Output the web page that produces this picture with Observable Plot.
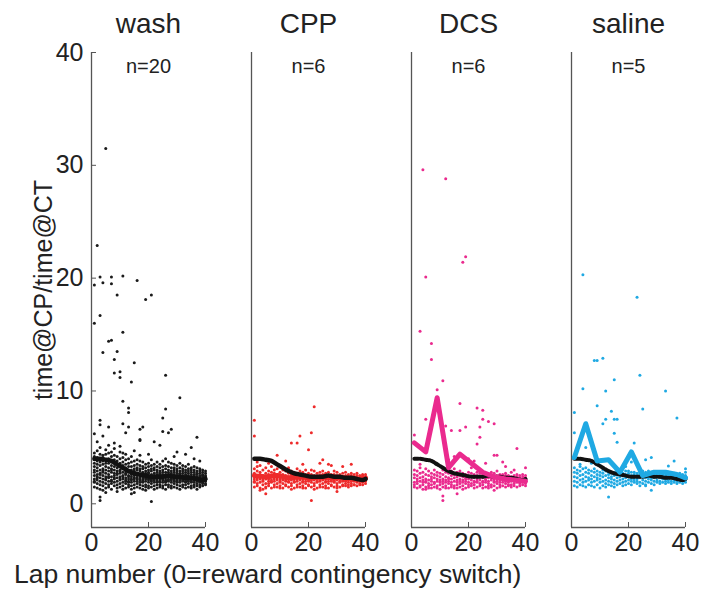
<!DOCTYPE html>
<html><head><meta charset="utf-8">
<script src="https://cdn.jsdelivr.net/npm/d3@7"></script>
<script src="https://cdn.jsdelivr.net/npm/@observablehq/plot@0.6"></script>
<style>
body{margin:0;background:#fff;font-family:Arial,"Liberation Sans",sans-serif}
#wrap{position:relative;width:705px;height:590px}
#xlabel{position:absolute;left:14px;top:561px;font-size:26.5px;color:#222;white-space:nowrap;line-height:1}
</style></head><body>
<div id="wrap"><div id="chart"></div><div id="xlabel">Lap number (0=reward contingency switch)</div></div>
<script>
const groups = ["wash", "CPP", "DCS", "saline"];
const groupColors = ["#1a1a1a", "#ee2b2b", "#ea2a8e", "#1fa9e3"];
const nLabels = ["n=20", "n=6", "n=6", "n=5"];
const yTicks = [0, 10, 20, 30, 40];
const xTicks = [0, 20, 40];

// per-lap values (laps 1..40), dense band
const washBand = [
[1.5,1.9,2.2,2.5,2.8,3.0,3.3,3.6,3.9,4.2,4.5,2.0],[1.4,1.8,2.1,2.4,2.6,2.9,3.2,3.5,3.8,4.1,4.7,2.3],
[1.3,1.7,2.0,2.3,2.7,3.0,3.4,3.7,4.0,4.4,5.0,2.6],[1.6,1.9,2.2,2.5,2.8,3.1,3.5,3.8,4.1,4.3,1.2,2.9],
[1.4,1.8,2.1,2.4,2.7,3.0,3.3,3.9,4.4,4.8,2.2,3.6],[1.5,1.7,2.0,2.3,2.6,2.9,3.2,3.6,4.0,4.5,5.2,2.4],
[1.3,1.8,2.1,2.4,2.8,3.1,3.4,3.7,4.2,4.6,2.0,3.0],[1.6,1.9,2.2,2.5,2.7,3.0,3.3,3.6,3.9,4.3,4.9,2.3],
[1.4,1.7,2.0,2.3,2.6,2.9,3.2,3.5,3.8,4.2,1.1,2.7],[1.5,1.8,2.1,2.4,2.7,3.0,3.3,3.6,4.0,4.6,2.2,2.9],
[1.3,1.6,1.9,2.2,2.5,2.8,3.1,3.4,3.7,4.1,4.5,2.4],[1.4,1.8,2.0,2.3,2.6,2.9,3.2,3.5,3.9,4.4,2.1,2.7],
[1.5,1.7,2.0,2.2,2.5,2.8,3.0,3.3,3.6,4.0,2.4,1.9],[1.3,1.6,1.9,2.2,2.4,2.7,3.0,3.3,3.7,4.2,2.1,2.6],
[1.4,1.7,2.0,2.3,2.5,2.8,3.1,3.4,3.8,1.0,2.2,2.9],[1.5,1.8,2.0,2.2,2.5,2.7,3.0,3.2,3.5,3.9,2.3,2.6],
[1.4,1.7,1.9,2.1,2.4,2.6,2.9,3.1,3.4,3.8,2.2,4.3],[1.3,1.6,1.9,2.1,2.3,2.6,2.8,3.1,3.3,3.7,2.0,2.5],
[1.5,1.7,2.0,2.2,2.4,2.7,2.9,3.2,3.5,1.2,2.3,2.6],[1.4,1.6,1.9,2.1,2.3,2.5,2.8,3.0,3.3,3.6,2.2,2.7],
[1.5,1.8,2.0,2.2,2.4,2.6,2.9,3.1,3.4,3.9,2.1,2.5],[1.3,1.6,1.9,2.1,2.3,2.5,2.7,3.0,3.2,3.5,2.2,2.4],
[1.4,1.7,1.9,2.1,2.4,2.6,2.8,3.0,3.3,3.7,2.0,2.5],[1.5,1.7,2.0,2.2,2.3,2.5,2.7,2.9,3.2,3.5,1.9,2.6],
[1.4,1.6,1.9,2.1,2.3,2.5,2.8,3.0,3.3,3.8,2.2,2.6],[1.3,1.7,1.9,2.1,2.3,2.6,2.8,3.1,3.4,4.0,2.0,2.5],
[1.5,1.7,2.0,2.2,2.4,2.6,2.8,3.0,3.3,3.7,2.1,2.5],[1.4,1.6,1.9,2.1,2.3,2.5,2.7,2.9,3.2,3.6,2.2,2.4],
[1.5,1.8,2.0,2.2,2.4,2.6,2.8,3.0,3.2,3.5,2.1,2.5],[1.4,1.7,1.9,2.1,2.3,2.5,2.7,2.9,3.1,3.4,2.0,2.4],
[1.3,1.6,1.9,2.1,2.3,2.5,2.7,2.9,3.2,3.6,2.2,2.6],[1.5,1.7,2.0,2.2,2.3,2.5,2.7,2.9,3.1,3.4,2.1,2.4],
[1.4,1.7,1.9,2.1,2.3,2.4,2.6,2.8,3.0,3.3,2.0,2.5],[1.5,1.8,2.0,2.1,2.3,2.5,2.7,2.9,3.1,3.5,2.2,2.4],
[1.4,1.6,1.9,2.1,2.2,2.4,2.6,2.8,3.0,3.2,2.0,2.3],[1.5,1.7,1.9,2.1,2.3,2.4,2.6,2.8,3.0,3.3,2.2,2.5],
[1.3,1.6,1.8,2.0,2.2,2.4,2.6,2.7,2.9,3.2,2.1,2.3],[1.5,1.7,1.9,2.1,2.2,2.4,2.5,2.7,2.9,3.1,2.0,2.3],
[1.6,1.8,1.9,2.1,2.2,2.3,2.5,2.6,2.8,3.0,2.0,2.4],[1.7,1.8,2.0,2.1,2.2,2.3,2.4,2.5,2.7,2.9,2.1,2.3]];
const washOutliers = [[5,31.5],[2,22.9],[3,20.1],[1,19.4],[4,19.6],[7,20.1],[7,19.5],[11,20.2],[16,19.8],[9,18.5],
[19,18.1],[21,18.5],[3,16.7],[1,16.0],[11,15.2],[6,14.4],[7,14.5],[4,13.4],[9,13.5],[8,12.8],[15,12.5],[8,11.6],
[10,11.7],[10,11.2],[14,10.8],[26,11.4],[11,9.1],[31,9.4],[13,8.5],[13,8.1],[26,8.4],[3,7.4],[3,7.0],[6,6.8],
[11,7.1],[13,6.8],[17,6.6],[18,6.8],[25,7.6],[25,6.4],[27,6.3],[28,6.6],[12,6.3],[1,6.2],[4,6.0],[2,5.5],[17,5.7],
[17,5.6],[22,5.5],[37,5.9],[35,5.0],[3,0.6],[3,0.3],[21,0.2],[5,1.0],[14,0.9],[24,5.2],[30,4.6],[33,4.4],[29,4.2],
[20,4.4],[15,4.7],[10,5.1],[8,5.4],[38,3.8],[36,4.0]];

const cppBand = [
[1.5,1.9,2.2,2.4,2.7,3.1,2.0],[1.6,1.8,2.1,2.5,2.9,3.3,2.3],[1.4,1.9,2.2,2.6,2.8,3.4,1.2],[1.7,2.0,2.3,2.5,3.0,1.3,2.1],
[1.5,1.8,2.2,2.4,2.7,3.2,1.4],[1.6,2.0,2.3,2.6,2.9,1.8,2.2],[1.4,1.9,2.1,2.4,2.8,3.3,2.0],[1.7,2.0,2.2,2.5,2.7,3.0,1.5],
[1.5,1.8,2.1,2.3,2.6,3.1,2.4],[1.6,1.9,2.2,2.5,2.8,1.4,2.0],[1.4,1.8,2.1,2.4,2.6,3.0,2.2],[1.7,2.0,2.3,2.5,2.9,1.6,2.1],
[1.5,1.9,2.2,2.4,2.7,3.2,2.0],[1.6,1.8,2.1,2.3,2.6,2.9,1.3],[1.4,1.9,2.2,2.5,2.8,2.0,2.3],[1.7,2.0,2.2,2.4,2.7,3.1,1.5],
[1.5,1.8,2.1,2.3,2.6,2.9,2.2],[1.6,1.9,2.2,2.5,2.8,1.4,2.0],[1.4,1.8,2.0,2.3,2.6,3.0,2.2],[1.7,2.0,2.3,2.5,2.7,1.6,2.1],
[1.5,1.9,2.1,2.4,2.6,3.0,2.2],[1.6,1.8,2.1,2.3,2.5,2.9,1.3],[1.4,1.9,2.2,2.4,2.7,2.0,2.3],[1.7,2.0,2.2,2.5,2.8,1.5,2.1],
[1.5,1.8,2.1,2.3,2.6,2.9,2.2],[1.6,1.9,2.2,2.4,2.7,1.4,2.0],[1.4,1.8,2.0,2.3,2.5,2.8,2.2],[1.7,2.0,2.2,2.4,2.6,1.6,2.1],
[1.5,1.9,2.1,2.3,2.6,2.9,2.0],[1.6,1.8,2.1,2.3,2.5,2.8,1.4],[1.5,1.9,2.2,2.4,2.6,2.0,2.3],[1.7,2.0,2.2,2.4,2.7,1.6,2.1],
[1.6,1.8,2.1,2.3,2.5,2.8,2.0],[1.7,1.9,2.2,2.4,2.6,1.5,2.1],[1.6,1.8,2.0,2.3,2.5,2.7,2.2],[1.7,2.0,2.2,2.4,2.6,1.7,2.1],
[1.6,1.9,2.1,2.3,2.5,2.7,2.0],[1.8,2.0,2.2,2.3,2.5,1.7,2.1],[1.7,1.9,2.1,2.3,2.5,2.6,2.0],[1.8,2.0,2.1,2.3,2.4,2.6,2.2]];
const cppOutliers = [[1,7.4],[1,6.0],[22,8.6],[21,6.3],[17,6.0],[14,5.4],[16,5.4],[20,4.8],[9,4.3],[3,4.0],[24,3.6],
[27,3.5],[28,3.4],[35,3.5],[10,3.4],[21,0.3],[5,0.9],[30,1.1],[2,3.7],[6,3.6],[12,3.8],[25,3.9],[32,3.3],[18,3.5]];

const dcsBand = [
[1.5,1.9,2.3,2.6,3.0,1.7],[1.4,1.8,2.2,2.5,2.9,2.0],[1.6,2.0,2.3,2.7,3.2,1.5],[1.3,1.7,2.1,2.4,2.8,1.9],
[1.5,1.9,2.2,2.6,3.1,2.0],[1.6,1.8,2.1,2.5,2.9,1.4],[1.4,1.7,2.0,2.4,2.7,2.2],[1.5,1.9,2.3,2.6,3.0,1.8],
[1.6,2.0,2.2,2.5,2.8,1.4],[1.3,1.7,2.1,2.4,2.7,1.9],[1.5,1.8,2.2,2.6,3.0,2.0],[1.6,1.9,2.1,2.4,2.8,1.4],
[1.4,1.8,2.0,2.3,2.7,2.2],[1.5,1.9,2.2,2.5,2.9,1.7],[1.6,2.0,2.3,2.6,3.1,1.4],[1.4,1.7,2.1,2.4,2.8,1.9],
[1.5,1.8,2.2,2.5,2.9,2.0],[1.6,1.9,2.1,2.4,2.7,1.3],[1.4,1.8,2.0,2.3,2.6,2.2],[1.5,1.9,2.2,2.5,2.8,1.7],
[1.6,1.8,2.1,2.4,2.7,3.2],[1.4,1.7,2.0,2.3,2.6,1.9],[1.5,1.9,2.2,2.5,2.8,2.0],[1.6,1.8,2.1,2.4,2.7,3.0],
[1.4,1.7,2.0,2.3,2.6,1.9],[1.5,1.9,2.2,2.4,2.7,2.1],[1.6,1.8,2.0,2.3,2.6,1.4],[1.5,1.7,2.1,2.3,2.5,2.8],
[1.6,1.9,2.2,2.4,2.7,2.0],[1.4,1.8,2.0,2.2,2.5,2.9],[1.5,1.7,2.1,2.3,2.6,1.9],[1.6,1.9,2.1,2.4,2.6,2.2],
[1.5,1.8,2.0,2.2,2.5,2.7],[1.6,1.9,2.1,2.3,2.5,1.7],[1.5,1.7,2.0,2.2,2.4,2.8],[1.6,1.8,2.1,2.3,2.5,2.0],
[1.5,1.9,2.0,2.2,2.4,2.6],[1.6,1.8,2.1,2.3,2.5,1.9],[1.7,1.9,2.0,2.2,2.4,2.6],[1.6,1.8,2.0,2.2,2.3,2.5]];
const dcsOutliers = [[4,29.6],[12,28.8],[18,21.4],[19,21.9],[5,20.1],[3,15.3],[7,14.2],[7,12.8],[11,10.9],[9,10.1],
[17,8.9],[23,8.5],[25,8.3],[5,7.5],[25,7.5],[27,7.3],[29,7.1],[19,6.8],[24,6.8],[14,6.5],[17,6.5],[24,5.9],[1,6.1],
[23,5.3],[12,6.9],[37,4.9],[29,4.3],[30,4.3],[32,3.7],[11,0.7],[11,0.3],[16,0.9],[29,1.2],[5,1.3],[40,3.2],[20,4.0],
[15,4.2],[26,3.6],[22,3.8],[33,3.3],[13,3.9],[8,3.7],[3,3.5],[36,3.0]];

const salineBand = [
[1.6,2.0,2.4,2.8,3.2],[1.5,1.9,2.3,2.7,3.0],[1.7,2.1,2.5,2.9,3.3],[1.6,1.9,2.2,2.6,3.1],[1.5,2.0,2.4,2.8,3.2],
[1.7,2.1,2.3,2.7,3.0],[1.6,1.9,2.2,2.5,2.9],[1.5,2.0,2.4,2.8,3.1],[1.7,2.1,2.3,2.6,2.9],[1.4,1.9,2.2,2.5,2.8],
[1.6,2.0,2.4,2.7,3.0],[1.5,1.8,2.1,2.5,2.9],[1.7,2.0,2.3,2.6,2.8],[1.6,1.9,2.2,2.4,2.7],[1.5,1.8,2.1,2.5,2.8],
[1.7,2.0,2.3,2.6,2.9],[1.8,2.1,2.4,2.6,2.8],[1.6,1.9,2.2,2.5,2.7],[1.7,2.0,2.3,2.6,2.9],[1.8,2.1,2.4,2.7,2.9],
[1.7,2.0,2.2,2.5,2.8],[1.9,2.1,2.3,2.6,2.8],[1.8,2.0,2.2,2.5,2.7],[1.6,1.9,2.3,2.6,2.8],[1.8,2.1,2.4,2.6,2.9],
[1.7,2.0,2.3,2.5,2.8],[1.9,2.2,2.4,2.6,2.9],[1.8,2.1,2.3,2.6,2.8],[1.7,2.0,2.3,2.5,2.7],[1.9,2.1,2.4,2.6,2.8],
[1.8,2.0,2.3,2.5,2.8],[1.9,2.2,2.4,2.6,2.8],[1.8,2.0,2.2,2.5,2.7],[1.9,2.1,2.3,2.6,2.8],[1.8,2.0,2.3,2.5,2.7],
[1.9,2.1,2.3,2.5,2.7],[1.8,2.0,2.2,2.4,2.6],[1.9,2.1,2.3,2.5,2.7],[1.8,2.0,2.2,2.4,2.6],[1.9,2.1,2.3,2.5,2.8]];
const salineOutliers = [[4,20.3],[23,18.3],[8,12.7],[9,12.7],[11,12.9],[4,10.2],[15,11.0],[24,11.4],[12,10.0],[33,10.0],
[9,8.7],[25,8.4],[14,8.2],[1,8.1],[12,7.5],[15,7.5],[16,7.5],[37,7.6],[11,7.1],[1,6.3],[15,6.25],[16,5.45],[22,5.4],
[5,5.0],[26,3.9],[28,4.1],[36,3.8],[34,3.35],[13,0.6],[28,1.2],[26,1.6],[40,3.1],[7,3.6],[10,3.4],[19,3.3],[21,3.7],[3,3.5]];

// mean curves
const washMeanLaps = [1,3,5,7,9,11,13,15,17,19,21,23,25,27,29,31,33,35,37,39,40];
const washMean = [4.0,4.0,3.9,3.8,3.5,3.2,2.9,2.7,2.6,2.5,2.4,2.4,2.4,2.5,2.4,2.4,2.3,2.3,2.2,2.1,2.2];
const binLaps = [1,5,9,13,17,21,25,29,33,37,40];
const cppMean = [2.5,2.4,2.5,2.3,2.4,2.3,2.4,2.3,2.3,2.2,2.3];
const dcsMean = [5.4,4.6,9.4,3.2,4.4,3.6,2.8,2.4,2.2,2.1,2.0];
const salineMean = [4.1,7.1,3.8,3.9,2.8,4.6,2.5,2.8,2.8,2.6,2.3];

// build tables
const bands = [washBand, cppBand, dcsBand, salineBand];
const outliers = [washOutliers, cppOutliers, dcsOutliers, salineOutliers];
const points = [];
groups.forEach((g, gi) => {
  bands[gi].forEach((vals, li) => vals.forEach(v => points.push({group: g, lap: li + 1, value: v})));
  outliers[gi].forEach(([l, v]) => points.push({group: g, lap: l, value: v}));
});
const washLine = groups.flatMap(g => washMeanLaps.map((l, i) => ({group: g, lap: l, value: washMean[i]})));
const meanRows = (g, arr) => binLaps.map((l, i) => ({group: g, lap: l, value: arr[i]}));
const nRows = groups.map((g, i) => ({group: g, label: nLabels[i]}));
const colorOf = g => groupColors[groups.indexOf(g)];

const yMin = -2.1;
const chart = Plot.plot({
  width: 705, height: 558,
  marginLeft: 89, marginRight: 19, marginTop: 52, marginBottom: 31,
  style: {fontFamily: "Arial, 'Liberation Sans', sans-serif", fontSize: "22px", color: "#222", background: "#fff", overflow: "visible"},
  fx: {domain: groups, paddingInner: 0.29, paddingOuter: 0, label: null},
  x: {domain: [0, 40], label: null},
  y: {domain: [yMin, 40], label: null},
  marks: [
    Plot.axisFx({anchor: "top", tickSize: 0, tickPadding: 20, fontSize: 28, label: null}),
    Plot.axisY({ticks: yTicks, tickSize: -5, tickPadding: 13, stroke: "#555", fontSize: 25, facetAnchor: "left",
      label: "time@CP/time@CT", labelAnchor: "center", labelOffset: 57, labelArrow: "none"}),
    Plot.axisX({ticks: xTicks, tickSize: -5, tickPadding: 11, stroke: "#555", fontSize: 25, label: null}),
    Plot.ruleX([0], {y1: yMin, y2: 40, stroke: "#555", strokeWidth: 1.3}),
    Plot.ruleY([yMin], {x1: 0, x2: 40, stroke: "#555", strokeWidth: 1.3}),
    Plot.text(nRows, {fx: "group", text: "label", frameAnchor: "top", lineAnchor: "middle", dy: 14, fontSize: 20, fill: "#222"}),
    Plot.dot(points, {fx: "group", x: "lap", y: "value", r: 1.5, fill: d => colorOf(d.group), stroke: null}),
    Plot.line(meanRows("CPP", cppMean), {fx: "group", x: "lap", y: "value", stroke: colorOf("CPP"), strokeWidth: 5, curve: "monotone-x"}),
    Plot.line(washLine.filter(d => d.group === "wash" || d.group === "CPP"), {fx: "group", x: "lap", y: "value", z: "group", stroke: "#111", strokeWidth: 4.5, curve: "monotone-x"}),
    Plot.line(washLine.filter(d => d.group === "DCS" || d.group === "saline"), {fx: "group", x: "lap", y: "value", z: "group", stroke: "#111", strokeWidth: 4, strokeDasharray: "4,1.5", curve: "monotone-x"}),
    Plot.line(meanRows("DCS", dcsMean), {fx: "group", x: "lap", y: "value", stroke: colorOf("DCS"), strokeWidth: 5}),
    Plot.line(meanRows("saline", salineMean), {fx: "group", x: "lap", y: "value", stroke: colorOf("saline"), strokeWidth: 5})
  ]
});
document.getElementById("chart").appendChild(chart);
</script>
</body></html>
